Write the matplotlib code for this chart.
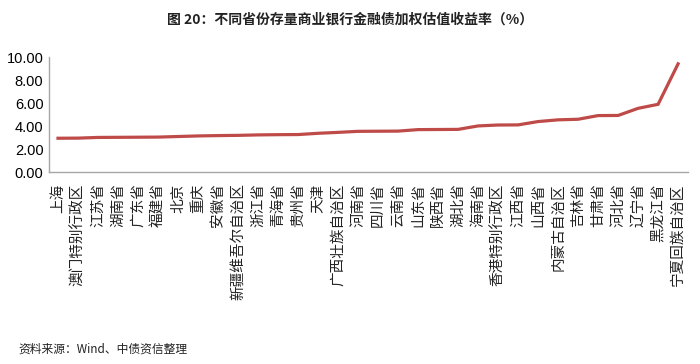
import matplotlib
matplotlib.use("Agg")
import matplotlib.pyplot as plt

plt.rcParams['font.family'] = ['Noto Sans CJK SC', 'DejaVu Sans']

provinces = [
    "上海", "澳门特别行政区", "江苏省", "湖南省", "广东省", "福建省", "北京", "重庆",
    "安徽省", "新疆维吾尔自治区", "浙江省", "青海省", "贵州省", "天津", "广西壮族自治区",
    "河南省", "四川省", "云南省", "山东省", "陕西省", "湖北省", "海南省",
    "香港特别行政区", "江西省", "山西省", "内蒙古自治区", "吉林省", "甘肃省",
    "河北省", "辽宁省", "黑龙江省", "宁夏回族自治区",
]
yields = [
    2.95, 2.96, 3.02, 3.03, 3.04, 3.05, 3.10, 3.15,
    3.18, 3.20, 3.24, 3.26, 3.27, 3.38, 3.46,
    3.55, 3.56, 3.57, 3.70, 3.71, 3.72, 4.02,
    4.10, 4.11, 4.40, 4.55, 4.60, 4.92,
    4.93, 5.55, 5.90, 9.42,
]
y_ticks = [0, 2, 4, 6, 8, 10]

fig = plt.figure(figsize=(7, 3.64), dpi=100)
ax = fig.add_axes([0.070, 0.527, 0.913, 0.316])

x = list(range(len(provinces)))
ax.plot(x, yields, color="#be4b48", linewidth=2.3, solid_joinstyle="miter")

ax.set_xlim(-0.45, len(provinces) - 0.5)
ax.set_ylim(0, 10)
ax.set_yticks(y_ticks)
ax.set_yticklabels([f"{v:.2f}" for v in y_ticks], fontfamily="Liberation Sans", fontsize=10.5)
ax.set_xticks(x)
ax.set_xticklabels(provinces, rotation=90, ha="center", va="top", fontsize=10.5,
                   color="#222222")
ax.tick_params(axis="x", length=0, pad=8)
ax.tick_params(axis="y", length=0, pad=4)

for s in ["top", "right"]:
    ax.spines[s].set_visible(False)
for s in ["left", "bottom"]:
    ax.spines[s].set_color("#a6a6a6")
    ax.spines[s].set_linewidth(1.0)

fig.text(0.5, 0.945, "图 20：不同省份存量商业银行金融债加权估值收益率（%）",
         ha="center", va="center", fontsize=10, fontweight="bold", color="#222222")
fig.text(0.026, 0.042, "资料来源：Wind、中债资信整理", ha="left", va="center",
         fontsize=8.5, color="#222222")

fig.savefig("out.png", dpi=100)
